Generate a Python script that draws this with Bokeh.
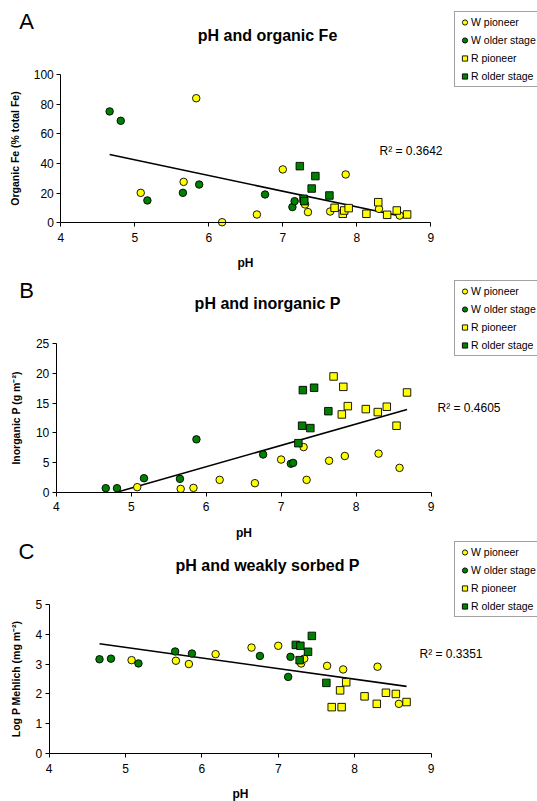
import numpy as np
from bokeh.plotting import figure
from bokeh.models import Range1d, Label, Legend, LegendItem, LinearAxis
from bokeh.layouts import column
from bokeh.embed import file_html
from bokeh.resources import INLINE

FONT = "Liberation Sans"

# ---------------- data ----------------
series_names = ["W pioneer", "W older stage", "R pioneer", "R older stage"]

ph_w_pioneer = [5.08, 5.66, 5.83, 6.18, 6.65, 7.00, 7.30, 7.34, 7.64, 7.85, 8.30, 8.58]
fe_w_pioneer = [20.2, 27.6, 84.0, 0.4, 5.6, 36.0, 12.4, 7.2, 7.6, 32.6, 9.4, 4.9]
p_w_pioneer = [0.85, 0.56, 0.73, 2.08, 1.52, 5.5, 7.6, 2.08, 5.3, 6.1, 6.5, 4.1]
logp_w_pioneer = [3.13, 3.11, 3.00, 3.33, 3.55, 3.61, 3.02, 3.18, 2.94, 2.82, 2.91, 1.67]

ph_w_older = [4.66, 4.81, 5.17, 5.65, 5.87, 6.76, 7.13, 7.16]
fe_w_older = [75.1, 68.8, 15.1, 20.2, 25.8, 19.1, 10.6, 14.6]
p_w_older = [0.68, 0.68, 2.36, 2.25, 8.9, 6.35, 4.8, 4.94]
logp_w_older = [3.16, 3.18, 3.02, 3.42, 3.35, 3.27, 2.57, 3.24]

ph_r_pioneer = [7.70, 7.81, 7.83, 7.89, 8.13, 8.29, 8.41, 8.54, 8.68]
fe_r_pioneer = [10.1, 6.1, 8.3, 9.9, 6.1, 13.9, 5.4, 8.3, 5.6]
p_r_pioneer = [19.5, 13.1, 17.75, 14.5, 14.0, 13.5, 14.4, 11.2, 16.8]
logp_r_pioneer = [1.56, 2.12, 1.56, 2.39, 1.92, 1.67, 2.04, 2.00, 1.73]

ph_r_older = [7.23, 7.28, 7.29, 7.39, 7.44, 7.63]
fe_r_older = [38.2, 16.2, 14.6, 23.1, 31.5, 18.4]
p_r_older = [8.26, 11.2, 17.2, 10.8, 17.6, 13.65]
logp_r_older = [3.64, 3.13, 3.61, 3.41, 3.94, 2.37]

x_ticks = [4, 5, 6, 7, 8, 9]
fe_ticks = [0, 20, 40, 60, 80, 100]
p_ticks = [0, 5, 10, 15, 20, 25]
logp_ticks = [0, 1, 2, 3, 4, 5]

r2_fe = "R\u00b2 = 0.3642"
r2_p = "R\u00b2 = 0.4605"
r2_logp = "R\u00b2 = 0.3351"

# ---------------- styles ----------------
YELLOW = "#FFFF00"
GREEN = "#008000"
styles = [
    dict(marker="circle", fill_color=YELLOW),
    dict(marker="circle", fill_color=GREEN),
    dict(marker="square", fill_color=YELLOW),
    dict(marker="square", fill_color=GREEN),
]
W = 537


def make_panel(letter, title, ylabel, phs, ys, yticks, r2, g):
    h = g["height"]
    x0, x1 = x_ticks[0], x_ticks[-1]
    y0, y1 = yticks[0], yticks[-1]
    # pixel box of the plotting area inside this figure (layout)
    L, R, T, B = g["box"]
    ppx = (R - L) / (x1 - x0)
    ppy = (B - T) / (y1 - y0)
    xr = Range1d(x0 - L / ppx, x1 + (W - R) / ppx)
    yr = Range1d(y0 - (h - B) / ppy, y1 + T / ppy)

    p = figure(width=W, height=h, title=None, x_range=xr, y_range=yr,
               x_axis_location=None, y_axis_location=None,
               output_backend="svg", toolbar_location=None,
               min_border=0, min_border_left=0, min_border_right=0,
               min_border_top=0, min_border_bottom=0)
    p.outline_line_color = None
    p.xgrid.visible = False
    p.ygrid.visible = False
    p.background_fill_color = "white"
    p.border_fill_color = "white"

    xax = LinearAxis(fixed_location=y0, bounds=(x0, x1), ticker=x_ticks, axis_label="pH")
    yax = LinearAxis(fixed_location=x0, bounds=(y0, y1), ticker=yticks, axis_label=ylabel)
    for ax in (xax, yax):
        ax.minor_tick_line_color = None
        ax.major_tick_in = 0
        ax.major_tick_out = 4
        ax.axis_line_color = "black"
        ax.major_tick_line_color = "black"
        ax.major_label_text_font = FONT
        ax.major_label_text_font_size = "12px"
        ax.major_label_text_color = "black"
        ax.axis_label_text_font = FONT
        ax.axis_label_text_font_style = "bold"
        ax.axis_label_text_color = "black"
    xax.axis_label_text_font_size = "12px"
    xax.major_label_standoff = 6
    xax.axis_label_standoff = 11
    yax.axis_label_text_font_size = "10.5px"
    yax.major_label_standoff = 3
    yax.axis_label_standoff = g["ylab_standoff"]
    p.add_layout(xax, "below")
    p.add_layout(yax, "left")

    # regression line (least squares over all samples), kept within the axis box
    all_x = np.concatenate([np.asarray(v, float) for v in phs])
    all_y = np.concatenate([np.asarray(v, float) for v in ys])
    slope, icpt = np.polyfit(all_x, all_y, 1)
    xs = np.array([all_x.min(), all_x.max()])
    yv = slope * xs + icpt
    for i in range(2):
        if yv[i] < y0:
            xs[i] = (y0 - icpt) / slope
        elif yv[i] > y1:
            xs[i] = (y1 - icpt) / slope
    p.line(xs, slope * xs + icpt, line_color="black", line_width=1.6)

    items = []
    for name, xv, yv_, st in zip(series_names, phs, ys, styles):
        r = p.scatter(xv, yv_, size=7.5, line_color="black", line_width=0.9, **st)
        items.append(LegendItem(label=name, renderers=[r]))

    leg = Legend(items=items, location=(g["leg_x"], g["leg_y"]),
                 label_text_font=FONT, label_text_font_size="10.5px",
                 label_text_color="black",
                 glyph_width=13, glyph_height=14, label_height=14,
                 label_standoff=0, spacing=4, padding=3, margin=0,
                 border_line_color="#444444", border_line_width=1,
                 background_fill_color="white", background_fill_alpha=1)
    p.add_layout(leg)

    p.add_layout(Label(x=g["letter"][0], y=g["letter"][1], x_units="screen", y_units="screen",
                       text=letter, text_font=FONT, text_font_size="22px",
                       text_align="center", text_baseline="middle", text_color="black"))
    p.add_layout(Label(x=g["title"][0], y=g["title"][1], x_units="screen", y_units="screen",
                       text=title, text_font=FONT, text_font_size="16px", text_font_style="bold",
                       text_align="center", text_baseline="middle", text_color="black"))
    p.add_layout(Label(x=g["r2"][0], y=g["r2"][1], x_units="screen", y_units="screen",
                       text=r2, text_font=FONT, text_font_size="12px",
                       text_align="left", text_baseline="middle", text_color="black"))
    return p


geomA = dict(height=275, box=(60.3, 430.3, 74.0, 222.3), ylab_standoff=9,
             letter=(26, 254), title=(267, 240), r2=(379, 125), leg_x=454, leg_y=188)
geomB = dict(height=265, box=(55.8, 430.5, 68.3, 216.7), ylab_standoff=11,
             letter=(26, 250), title=(267, 237), r2=(437, 133), leg_x=454, leg_y=184)
geomC = dict(height=261, box=(48.6, 430.5, 63.7, 213.3), ylab_standoff=11,
             letter=(26, 250), title=(267, 236), r2=(419, 148), leg_x=454, leg_y=184)

phs = [ph_w_pioneer, ph_w_older, ph_r_pioneer, ph_r_older]

pA = make_panel("A", "pH and organic Fe", "Organic Fe (% total Fe)", phs,
                [fe_w_pioneer, fe_w_older, fe_r_pioneer, fe_r_older], fe_ticks, r2_fe, geomA)
pB = make_panel("B", "pH and inorganic P", "Inorganic P (g m\u207b\u00b2)", phs,
                [p_w_pioneer, p_w_older, p_r_pioneer, p_r_older], p_ticks, r2_p, geomB)
pC = make_panel("C", "pH and weakly sorbed P", "Log P Mehlich (mg m\u207b\u00b2)", phs,
                [logp_w_pioneer, logp_w_older, logp_r_pioneer, logp_r_older], logp_ticks, r2_logp, geomC)

layout = column(pA, pB, pC, spacing=0)
open("out.html", "w").write(file_html(layout, INLINE))
